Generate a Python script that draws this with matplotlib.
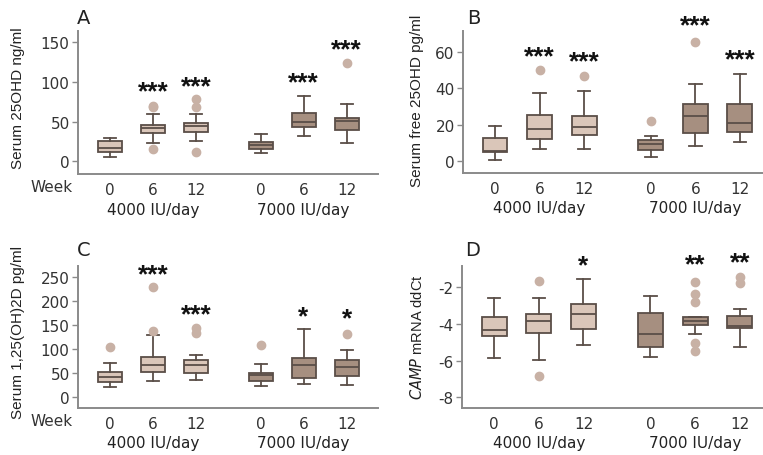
import matplotlib
matplotlib.use('Agg')
import matplotlib.pyplot as plt

# ---------------- data ----------------
weeks = ['0', '6', '12', '0', '6', '12']
groups = ['4000 IU/day', '7000 IU/day']

# Panel A: Serum 25OHD ng/ml
a_whislo = [5, 23, 25, 11, 32, 23]
a_q1 = [12, 36, 37, 16, 43, 40]
a_med = [17, 42, 44, 21, 49, 51]
a_q3 = [25, 46, 48, 24, 61, 55]
a_whishi = [29, 59, 60, 34, 82, 72]
a_fliers = [[], [70, 68, 15], [78, 68, 12], [], [], [124]]
a_stars = ['', '***', '***', '', '***', '***']
a_star_y = [0, 98, 105, 0, 110, 151]

# Panel B: Serum free 25OHD pg/ml
b_whislo = [1, 6.8, 6.8, 2.4, 8.6, 10.4]
b_q1 = [5.3, 12.2, 14.4, 6.4, 15.5, 16.3]
b_med = [5.8, 18, 19, 9.7, 25, 21]
b_q3 = [13, 25.6, 25, 11.5, 31.4, 31.4]
b_whishi = [19.5, 37.5, 38.5, 14, 42.4, 48]
b_fliers = [[], [50], [47], [22], [65.6], []]
b_stars = ['', '***', '***', '', '***', '***']
b_star_y = [0, 62, 59.3, 0, 79, 60.2]

# Panel C: Serum 1,25(OH)2D pg/ml
c_whislo = [21, 33, 35, 22, 26.5, 25]
c_q1 = [30, 51, 50, 33, 40, 44]
c_med = [42, 66, 66, 45, 66, 61]
c_q3 = [51, 84, 76, 50, 81, 77]
c_whishi = [70, 130, 87, 69, 141, 98]
c_fliers = [[104], [229, 137], [144, 133], [108], [], [132]]
c_stars = ['', '***', '***', '', '*', '*']
c_star_y = [0, 273, 190, 0, 185, 181]

# Panel D: CAMP mRNA ddCt
d_whislo = [-5.85, -5.96, -5.13, -5.8, -4.55, -5.24]
d_q1 = [-4.67, -4.5, -4.27, -5.25, -4.07, -4.24]
d_med = [-4.35, -3.85, -3.47, -4.55, -3.82, -4.09]
d_q3 = [-3.6, -3.47, -2.89, -3.4, -3.6, -3.58]
d_whishi = [-2.6, -2.56, -1.56, -2.5, -3.6, -3.18]
d_fliers = [[], [-1.64, -6.85], [], [], [-1.7, -2.35, -2.8, -5.05, -5.5], [-1.42, -1.78]]
d_stars = ['', '', '*', '', '**', '**']
d_star_y = [0, 0, -0.36, 0, -0.3, -0.2]

# ---------------- style ----------------
W, H = 763, 456
fig = plt.figure(figsize=(W / 100, H / 100), dpi=100)
fig.patch.set_facecolor('white')

positions = [1, 2, 3, 4.5, 5.5, 6.5]
light_fill = '#dac6b9'
dark_fill = '#a68f80'
edge = '#5a4e48'
flier_col = '#c8b1a5'
spine_col = '#8a8a8a'
txt_col = '#222222'
tick_font = 'DejaVu Sans'
tfs = 11


def px_axes(l, t, r, b):
    return fig.add_axes([l / W, 1 - b / H, (r - l) / W, (b - t) / H])


def panel(ax, lo, q1, med, q3, hi, fliers, stars, star_y, ylim, yticks,
          xlim, week_label, letter, letter_xy, ylabel, ylabel_xy, ylabel_fs=11):
    stats = []
    for i in range(6):
        stats.append(dict(whislo=lo[i], q1=q1[i], med=med[i], q3=q3[i],
                          whishi=hi[i], fliers=fliers[i], label=weeks[i]))
    bp = ax.bxp(stats, positions=positions, widths=0.56, patch_artist=True,
                showfliers=True,
                boxprops=dict(edgecolor=edge, linewidth=1.3),
                medianprops=dict(color=edge, linewidth=1.3),
                whiskerprops=dict(color=edge, linewidth=1.3),
                capprops=dict(color=edge, linewidth=1.3),
                flierprops=dict(marker='o', markerfacecolor=flier_col,
                                markeredgecolor=flier_col, markersize=6))
    for i, box in enumerate(bp['boxes']):
        box.set_facecolor(light_fill if i < 3 else dark_fill)
    ax.set_xlim(*xlim)
    ax.set_ylim(*ylim)
    ax.set_yticks(yticks)
    ax.set_yticklabels([str(t) for t in yticks], fontfamily=tick_font,
                       fontsize=tfs, color='#333333')
    ax.set_xticks(positions)
    ax.set_xticklabels(weeks, fontfamily=tick_font, fontsize=tfs, color='#333333')
    ax.tick_params(axis='x', length=0, pad=6)
    ax.tick_params(axis='y', length=4, width=1, color=spine_col, pad=2)
    for s in ['top', 'right']:
        ax.spines[s].set_visible(False)
    for s in ['left', 'bottom']:
        ax.spines[s].set_color(spine_col)
        ax.spines[s].set_linewidth(1.4)
    # group labels
    for gx, g in zip([2, 5.5], groups):
        ax.annotate(g, xy=(gx, 0), xycoords=('data', 'axes fraction'),
                    xytext=(0, -35), textcoords='offset pixels',
                    ha='center', va='center', fontfamily=tick_font,
                    fontsize=tfs, color=txt_col, annotation_clip=False)
    if week_label:
        ax.annotate('Week', xy=(0, 0), xycoords='axes fraction',
                    xytext=(-26, -13), textcoords='offset pixels',
                    ha='center', va='center', fontfamily=tick_font,
                    fontsize=tfs, color='#333333', annotation_clip=False)
    # significance stars
    fs = 19
    for i in range(6):
        if stars[i]:
            ax.annotate(stars[i], xy=(positions[i], star_y[i]), xycoords='data',
                        xytext=(0, -0.57 * fs), textcoords='offset points',
                        ha='center', va='baseline', fontfamily='Liberation Sans',
                        fontweight='bold', fontsize=fs, color='#111111',
                        annotation_clip=False)
    fig.text(letter_xy[0] / W, 1 - letter_xy[1] / H, letter, ha='left', va='center',
             fontfamily=tick_font, fontsize=14, color=txt_col)
    fig.text(ylabel_xy[0] / W, 1 - ylabel_xy[1] / H, ylabel, rotation=90,
             ha='center', va='center', fontfamily='Liberation Sans',
             fontsize=ylabel_fs, color=txt_col)


axA = px_axes(78, 32, 378, 175)
panel(axA, a_whislo, a_q1, a_med, a_q3, a_whishi, a_fliers, a_stars, a_star_y,
      (-16, 164), [0, 50, 100, 150], (0.256, 7.23), True, 'A', (77, 19),
      'Serum 25OHD ng/ml', (18, 98))

axB = px_axes(463, 32, 763, 174)
panel(axB, b_whislo, b_q1, b_med, b_q3, b_whishi, b_fliers, b_stars, b_star_y,
      (-6.4, 71.5), [0, 20, 40, 60], (0.281, 7.02), False, 'B', (467, 19),
      'Serum free 25OHD pg/ml', (417, 101))

axC = px_axes(78, 267, 378, 409)
panel(axC, c_whislo, c_q1, c_med, c_q3, c_whishi, c_fliers, c_stars, c_star_y,
      (-24, 274), [0, 50, 100, 150, 200, 250], (0.256, 7.23), True, 'C', (77, 251),
      'Serum 1,25(OH)2D pg/ml', (18, 333))

axD = px_axes(462, 267, 763, 409)
panel(axD, d_whislo, d_q1, d_med, d_q3, d_whishi, d_fliers, d_stars, d_star_y,
      (-8.58, -0.84), [-8, -6, -4, -2], (0.281, 7.02), False, 'D', (465, 250),
      r'$\it{CAMP}$ mRNA ddCt', (417, 337), ylabel_fs=10.5)

fig.savefig('out.png', dpi=100, facecolor='white')
